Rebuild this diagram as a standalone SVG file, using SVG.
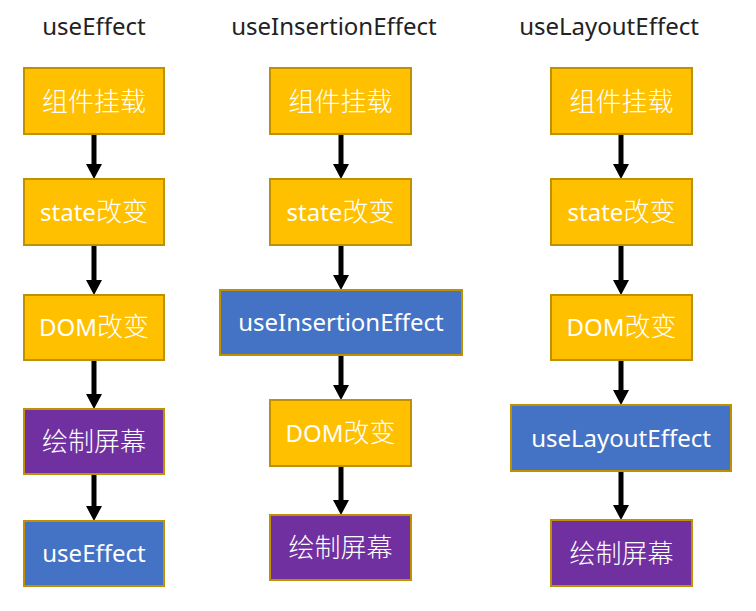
<svg xmlns="http://www.w3.org/2000/svg" width="756" height="611" viewBox="0 0 756 611">
<defs>
<style>
.t{font-family:"Noto Sans","Noto Sans CJK SC",sans-serif;font-size:24px;fill:#222;text-anchor:middle}
.l{font-family:"Noto Sans","Noto Sans CJK SC",sans-serif;font-size:24px;fill:#fff;text-anchor:middle}
.z{font-family:"Noto Sans CJK SC",sans-serif;font-size:26px;font-weight:300}
.o{fill:#FFC000;stroke:#BF9000;stroke-width:2}
.b{fill:#4472C4;stroke:#BF9000;stroke-width:2}
.p{fill:#7030A0;stroke:#BF9000;stroke-width:2}
.c{stroke:#000;stroke-width:5;fill:none;marker-end:url(#ah)}
</style>
<marker id="ah" markerUnits="userSpaceOnUse" markerWidth="15" markerHeight="16" viewBox="0 0 15 16" refX="0" refY="8" orient="auto">
<path d="M0,0 L15,8 L0,16 Z" fill="#000"/>
</marker>
</defs>
<rect width="756" height="611" fill="#fff"/>
<g id="titles">
<text class="t" x="94" y="35">useEffect</text>
<text class="t" x="334" y="35">useInsertionEffect</text>
<text class="t" x="609" y="35">useLayoutEffect</text>
</g>
<g id="connectors">
<path d="M94,134 V164" class="c"/>
<path d="M94,245 V280" class="c"/>
<path d="M94,360 V394" class="c"/>
<path d="M94,474 V506" class="c"/>
<path d="M341,134 V164" class="c"/>
<path d="M341,245 V275" class="c"/>
<path d="M341,355 V385" class="c"/>
<path d="M341,466 V500" class="c"/>
<path d="M621,134 V164" class="c"/>
<path d="M621,245 V280" class="c"/>
<path d="M621,360 V390" class="c"/>
<path d="M621,471 V505" class="c"/>
</g>
<g id="n1a"><rect class="o" x="24" y="68" width="140" height="66"/><text class="l z" x="94" y="111">组件挂载</text></g>
<g id="n1b"><rect class="o" x="24" y="179" width="140" height="66"/><text class="l" x="94" y="221">state<tspan class="z">改变</tspan></text></g>
<g id="n1c"><rect class="o" x="24" y="295" width="140" height="65"/><text class="l" x="94" y="336">DOM<tspan class="z">改变</tspan></text></g>
<g id="n1d"><rect class="p" x="24" y="409" width="140" height="65"/><text class="l z" x="94" y="451">绘制屏幕</text></g>
<g id="n1e"><rect class="b" x="24" y="521" width="140" height="65"/><text class="l" x="94" y="562">useEffect</text></g>
<g id="n2a"><rect class="o" x="270" y="68" width="141" height="66"/><text class="l z" x="340.5" y="111">组件挂载</text></g>
<g id="n2b"><rect class="o" x="270" y="179" width="141" height="66"/><text class="l" x="340.5" y="221">state<tspan class="z">改变</tspan></text></g>
<g id="n2c"><rect class="b" x="220" y="290" width="242" height="65"/><text class="l" x="341" y="331">useInsertionEffect</text></g>
<g id="n2d"><rect class="o" x="270" y="400" width="141" height="66"/><text class="l" x="340.5" y="442">DOM<tspan class="z">改变</tspan></text></g>
<g id="n2e"><rect class="p" x="270" y="515" width="141" height="65"/><text class="l z" x="340.5" y="557">绘制屏幕</text></g>
<g id="n3a"><rect class="o" x="551" y="68" width="141" height="66"/><text class="l z" x="621.5" y="111">组件挂载</text></g>
<g id="n3b"><rect class="o" x="551" y="179" width="141" height="66"/><text class="l" x="621.5" y="221">state<tspan class="z">改变</tspan></text></g>
<g id="n3c"><rect class="o" x="551" y="295" width="141" height="65"/><text class="l" x="621.5" y="336">DOM<tspan class="z">改变</tspan></text></g>
<g id="n3d"><rect class="b" x="511" y="405" width="220" height="66"/><text class="l" x="621" y="447">useLayoutEffect</text></g>
<g id="n3e"><rect class="p" x="551" y="520" width="141" height="66"/><text class="l z" x="621.5" y="563">绘制屏幕</text></g>
</svg>
